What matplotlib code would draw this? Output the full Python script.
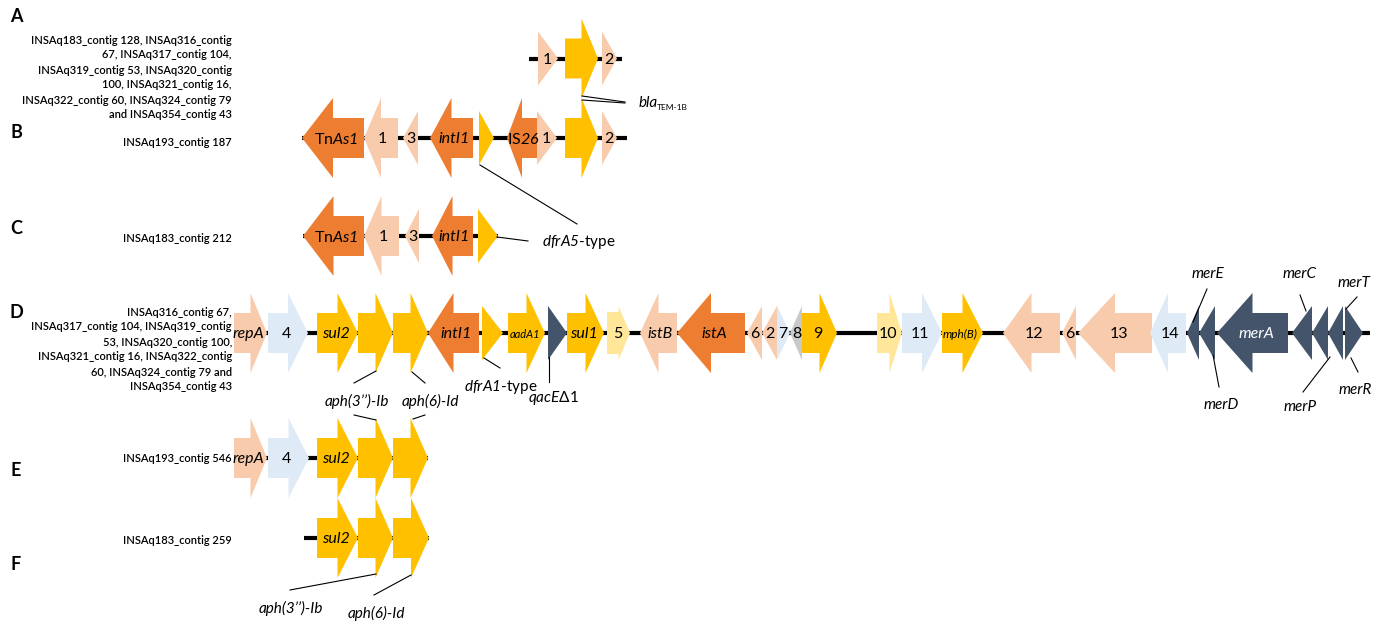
import matplotlib
matplotlib.use("Agg")
import matplotlib.pyplot as plt
from matplotlib.patches import Polygon

plt.rcParams["font.family"] = ["Lato", "DejaVu Sans"]
plt.rcParams["mathtext.fontset"] = "custom"
plt.rcParams["mathtext.rm"] = "Lato"
plt.rcParams["mathtext.it"] = "Lato:italic"
plt.rcParams["mathtext.sf"] = "Lato:italic"   # italic incl. digits
plt.rcParams["mathtext.bf"] = "Lato:bold"

W, H = 1382, 621

# genes per contig: (label, start, end, strand, class, size)
# coordinates are map units along the drawn contig
GENES_A = [
    ("1", 538, 558, 1, "hyp", "S"),
    ("", 565, 598, 1, "res", "L"),       # blaTEM-1B
    ("2", 602, 617, 1, "hyp", "S"),
]
GENES_B = [
    (r"Tn$\mathsf{As1}$", 302, 364, -1, "mob", "L"),
    ("1", 364, 398, -1, "hyp", "L"),
    ("3", 403, 418, -1, "hyp", "S"),
    ("intI1", 430, 473, -1, "mob", "L"),
    ("", 479, 494, 1, "res", "S"),       # dfrA5-type
    (r"IS$\mathsf{26}$", 507, 537, -1, "mob", "L"),
    ("1", 537, 557, 1, "hyp", "S"),
    ("", 565, 598, 1, "res", "L"),       # blaTEM-1B
    ("2", 602, 617, 1, "hyp", "S"),
]
GENES_C = [
    (r"Tn$\mathsf{As1}$", 303, 364, -1, "mob", "L"),
    ("1", 364, 399, -1, "hyp", "L"),
    ("3", 405, 419, -1, "hyp", "S"),
    ("intI1", 432, 473, -1, "mob", "L"),
    ("", 478, 498, 1, "res", "S"),       # dfrA5-type
]
GENES_D = [
    ("repA", 234, 267, 1, "hyp", "L"),
    ("4", 268, 308, 1, "blue", "L"),
    ("sul2", 317, 358, 1, "res", "L"),
    ("", 358, 393, 1, "res", "L"),       # aph(3'')-Ib
    ("", 393, 428, 1, "res", "L"),       # aph(6)-Id
    ("intI1", 428, 479, -1, "mob", "L"),
    ("", 482, 503, 1, "res", "S"),       # dfrA1-type
    ("aadA1", 508, 545, 1, "res", "L"),
    ("", 548, 567, 1, "mer", "S"),       # qacEdelta1
    ("sul1", 567, 604, 1, "res", "L"),
    ("5", 607, 630, 1, "pale", "M"),
    ("istB", 640, 677, -1, "hyp", "L"),
    ("istA", 677, 745, -1, "mob", "L"),
    ("6", 747, 762, -1, "hyp", "S"),
    ("2", 762, 777, -1, "hyp", "S"),
    ("7", 777, 790, 1, "blue", "S"),
    ("8", 790, 802, -1, "grey", "S"),
    ("9", 802, 837, 1, "res", "L"),
    ("10", 877, 902, 1, "pale", "L"),
    ("11", 902, 942, 1, "blue", "L"),
    ("mph(B)", 942, 983, 1, "res", "L"),
    ("12", 1003, 1060, -1, "hyp", "L"),
    ("6", 1062, 1076, -1, "hyp", "S"),
    ("13", 1078, 1152, -1, "hyp", "L"),
    ("14", 1150, 1186, -1, "blue", "L"),
    ("", 1187, 1199, -1, "mer", "S"),    # merE
    ("", 1199, 1215, -1, "mer", "S"),    # merD
    ("merA", 1217, 1288, -1, "mer", "L"),
    ("", 1292, 1312, -1, "mer", "S"),    # merC
    ("", 1312, 1328, -1, "mer", "S"),    # merP
    ("", 1328, 1343, -1, "mer", "S"),    # merT
    ("", 1345, 1363, 1, "mer", "S"),     # merR
]
GENES_E = [
    ("repA", 234, 267, 1, "hyp", "L"),
    ("4", 268, 309, 1, "blue", "L"),
    ("sul2", 317, 358, 1, "res", "L"),
    ("", 358, 393, 1, "res", "L"),
    ("", 393, 428, 1, "res", "L"),
]
GENES_F = [
    ("sul2", 317, 358, 1, "res", "L"),
    ("", 358, 393, 1, "res", "L"),
    ("", 393, 429, 1, "res", "L"),
]

# contig extent drawn as backbone
BACKBONE = {"A": (529, 622), "B": (302, 627), "C": (303, 498),
            "D": (234, 1370), "E": (234, 428), "F": (304, 429)}

NAMES_A = ["INSAq183_contig 128, INSAq316_contig", "67, INSAq317_contig 104,",
           "INSAq319_contig 53, INSAq320_contig", "100, INSAq321_contig 16,",
           "INSAq322_contig 60, INSAq324_contig 79", "and INSAq354_contig 43"]
NAMES_B = ["INSAq193_contig 187"]
NAMES_C = ["INSAq183_contig 212"]
NAMES_D = ["INSAq316_contig 67,", "INSAq317_contig 104, INSAq319_contig",
           "53, INSAq320_contig 100,", "INSAq321_contig 16, INSAq322_contig",
           "60, INSAq324_contig 79 and", "INSAq354_contig 43"]
NAMES_E = ["INSAq193_contig 546"]
NAMES_F = ["INSAq183_contig 259"]

COLORS = {"mob": "#ED7D31", "hyp": "#F8CBAD", "res": "#FFC000", "blue": "#DEEBF7",
          "pale": "#FFE699", "mer": "#44546A", "grey": "#C9C9C9"}
HEAD_H = {"L": 80, "M": 54, "S": 54}
BODY_H = {"L": 40, "M": 42, "S": 0}
SMALL_LABELS = {"aadA1": 8, "mph(B)": 8.5}


def draw_gene(ax, y, label, start, end, strand, cls, size):
    length = end - start
    hh = HEAD_H[size] / 2
    bh = BODY_H[size] / 2
    hl = length if size == "S" else 0.5 * length
    if strand > 0:
        x0, x1, xh = start, end, end - hl
        lx = start + 0.45 * length
    else:
        x0, x1, xh = end, start, start + hl
        lx = end - 0.45 * length
    pts = [(x0, y - bh), (xh, y - bh), (xh, y - hh), (x1, y),
           (xh, y + hh), (xh, y + bh), (x0, y + bh)]
    ax.add_patch(Polygon(pts, closed=True, facecolor=COLORS[cls],
                         edgecolor="none", zorder=2))
    if not label:
        return
    style = "normal" if (label.isdigit() or "$" in label) else "italic"
    fs = SMALL_LABELS.get(label, 11.5)
    col = "white" if cls == "mer" else "black"
    ax.text(lx, y + 1, label, ha="center", va="center", fontsize=fs,
            style=style, color=col, zorder=3)


def main():
    fig = plt.figure(figsize=(W / 100, H / 100), dpi=100)
    ax = fig.add_axes([0, 0, 1, 1])
    ax.set_xlim(0, W)
    ax.set_ylim(H, 0)
    ax.axis("off")

    tracks = [
        ("A", 58.5, GENES_A, NAMES_A, 40, 17),
        ("B", 138, GENES_B, NAMES_B, 142, 132),
        ("C", 236, GENES_C, NAMES_C, 239, 229),
        ("D", 333, GENES_D, NAMES_D, 312, 313),
        ("E", 458, GENES_E, NAMES_E, 459, 470),
        ("F", 538, GENES_F, NAMES_F, 541, 565),
    ]

    for key, y, genes, names, name_y, letter_y in tracks:
        x0, x1 = BACKBONE[key]
        ax.plot([x0, x1], [y, y], color="black", lw=3, solid_capstyle="butt", zorder=1)
        for g in genes:
            draw_gene(ax, y, *g)
        for i, line in enumerate(names):
            ax.text(232, name_y + i * 15, line, ha="right", va="center",
                    fontsize=8, fontweight="semibold")
        ax.text(16, letter_y, key, ha="center", va="center", fontsize=13,
                fontweight="bold")

    # callouts: (text, leader line, text position)
    callouts = [
        ("", [(582, 96), (625, 102)], None),
        ("", [(582, 100), (625, 103)], None),
        ("", [(480, 165), (577, 224)], None),
        (r"$\mathsf{dfrA5}$-type", [(497, 237), (528, 241)], (542, 242, "left")),
        ("aph(3\u2019\u2019)-Ib", [(376, 371), (354, 383)], (357, 401, "center")),
        ("aph(6)-Id", [(412, 372), (425, 383)], (430, 401, "center")),
        ("", [(354, 415), (376, 420)], None),
        ("", [(413, 419), (425, 415)], None),
        (r"$\mathsf{dfrA1}$-type", [(484, 358), (500, 368)], (501, 387, "center")),
        (r"$\mathsf{qacE}\Delta$1", [(549, 357), (549, 382)], (553, 398, "center")),
        ("merE", [(1207, 289), (1193, 322)], (1208, 274, "center")),
        ("merD", [(1213, 355), (1219, 387)], (1221, 405, "center")),
        ("merC", [(1300, 295), (1306, 311)], (1300, 274, "center")),
        ("merT", [(1357, 297), (1346, 309)], (1354, 283, "center")),
        ("merP", [(1330, 357), (1303, 392)], (1300, 407, "center")),
        ("merR", [(1351, 358), (1358, 372)], (1355, 390, "center")),
        ("aph(3\u2019\u2019)-Ib", [(376, 574), (290, 590)], (291, 608, "center")),
        ("aph(6)-Id", [(411, 575), (374, 595)], (376, 613, "center")),
    ]
    for text, pts, pos in callouts:
        xs, ys = zip(*pts)
        ax.plot(xs, ys, color="black", lw=0.8, zorder=4)
        if pos is None:
            continue
        tx, ty, ha = pos
        style = "normal" if "$" in text else "italic"
        ax.text(tx, ty, text, ha=ha, va="center", fontsize=11, style=style)

    # blaTEM-1B label with subscript
    ax.text(639, 103, "bla", ha="left", va="center", fontsize=11, style="italic")
    ax.text(657, 108, "TEM-1B", ha="left", va="center", fontsize=6)

    fig.savefig("out.png", dpi=100)


if __name__ == "__main__":
    main()
